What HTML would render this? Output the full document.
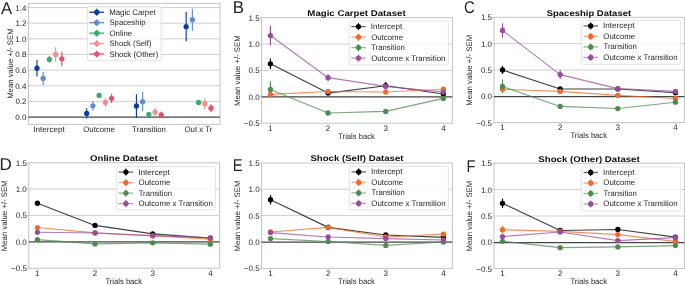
<!DOCTYPE html>
<html><head><meta charset="utf-8"><title>Figure</title>
<style>
html,body{margin:0;padding:0;background:#ffffff;width:685px;height:285px;overflow:hidden;}
svg{display:block;will-change:transform;text-rendering:geometricPrecision;font-family:"Liberation Sans", sans-serif;}
</style></head>
<body>
<svg width="685" height="285" viewBox="0 0 685 285">
<rect x="0" y="0" width="685" height="285" fill="#ffffff"/>
<line x1="28.5" y1="101.41" x2="220" y2="101.41" stroke="#cfcfcf" stroke-width="1"/>
<line x1="28.5" y1="85.77" x2="220" y2="85.77" stroke="#cfcfcf" stroke-width="1"/>
<line x1="28.5" y1="70.13" x2="220" y2="70.13" stroke="#cfcfcf" stroke-width="1"/>
<line x1="28.5" y1="54.49" x2="220" y2="54.49" stroke="#cfcfcf" stroke-width="1"/>
<line x1="28.5" y1="38.85" x2="220" y2="38.85" stroke="#cfcfcf" stroke-width="1"/>
<line x1="28.5" y1="23.21" x2="220" y2="23.21" stroke="#cfcfcf" stroke-width="1"/>
<line x1="28.5" y1="7.57" x2="220" y2="7.57" stroke="#cfcfcf" stroke-width="1"/>
<rect x="28.5" y="3.4" width="191.5" height="121" fill="none" stroke="#c4c4c4" stroke-width="1" rx="0"/>
<line x1="28.5" y1="117.2" x2="220" y2="117.2" stroke="#454545" stroke-width="1.3"/>
<line x1="26.9" y1="117.05" x2="28.5" y2="117.05" stroke="#c4c4c4" stroke-width="0.8"/>
<line x1="26.9" y1="101.41" x2="28.5" y2="101.41" stroke="#c4c4c4" stroke-width="0.8"/>
<line x1="26.9" y1="85.77" x2="28.5" y2="85.77" stroke="#c4c4c4" stroke-width="0.8"/>
<line x1="26.9" y1="70.13" x2="28.5" y2="70.13" stroke="#c4c4c4" stroke-width="0.8"/>
<line x1="26.9" y1="54.49" x2="28.5" y2="54.49" stroke="#c4c4c4" stroke-width="0.8"/>
<line x1="26.9" y1="38.85" x2="28.5" y2="38.85" stroke="#c4c4c4" stroke-width="0.8"/>
<line x1="26.9" y1="23.21" x2="28.5" y2="23.21" stroke="#c4c4c4" stroke-width="0.8"/>
<line x1="26.9" y1="7.57" x2="28.5" y2="7.57" stroke="#c4c4c4" stroke-width="0.8"/>
<line x1="49.4" y1="124.4" x2="49.4" y2="126" stroke="#c4c4c4" stroke-width="0.8"/>
<line x1="99.13" y1="124.4" x2="99.13" y2="126" stroke="#c4c4c4" stroke-width="0.8"/>
<line x1="148.86" y1="124.4" x2="148.86" y2="126" stroke="#c4c4c4" stroke-width="0.8"/>
<line x1="198.59" y1="124.4" x2="198.59" y2="126" stroke="#c4c4c4" stroke-width="0.8"/>
<text x="26.41" y="120.05" font-size="8" text-anchor="end" font-weight="normal" fill="#262626">0.0</text>
<text x="26.5" y="104.41" font-size="8" text-anchor="end" font-weight="normal" fill="#262626">0.2</text>
<text x="26.33" y="88.77" font-size="8" text-anchor="end" font-weight="normal" fill="#262626">0.4</text>
<text x="26.45" y="73.13" font-size="8" text-anchor="end" font-weight="normal" fill="#262626">0.6</text>
<text x="26.45" y="57.49" font-size="8" text-anchor="end" font-weight="normal" fill="#262626">0.8</text>
<text x="26.41" y="41.85" font-size="8" text-anchor="end" font-weight="normal" fill="#262626">1.0</text>
<text x="26.5" y="26.21" font-size="8" text-anchor="end" font-weight="normal" fill="#262626">1.2</text>
<text x="26.33" y="10.57" font-size="8" text-anchor="end" font-weight="normal" fill="#262626">1.4</text>
<text x="33.2" y="131.6" font-size="8" text-anchor="start" font-weight="normal" fill="#262626" textLength="31.71" lengthAdjust="spacingAndGlyphs">Intercept</text>
<text x="83.26" y="131.6" font-size="8" text-anchor="start" font-weight="normal" fill="#262626" textLength="31.72" lengthAdjust="spacingAndGlyphs">Outcome</text>
<text x="132.09" y="131.6" font-size="8" text-anchor="start" font-weight="normal" fill="#262626" textLength="33.87" lengthAdjust="spacingAndGlyphs">Transition</text>
<text x="184.42" y="131.6" font-size="8" text-anchor="start" font-weight="normal" fill="#262626" textLength="28.1" lengthAdjust="spacingAndGlyphs">Out x Tr</text>
<text x="12.9" y="98.84" font-size="8" text-anchor="start" font-weight="normal" fill="#262626" textLength="70.47" lengthAdjust="spacingAndGlyphs" transform="rotate(-90 12.9 98.84)">Mean value +/- SEM</text>
<text x="0.97" y="13.7" font-size="17" text-anchor="start" font-weight="normal" fill="#262626" textLength="11.06" lengthAdjust="spacingAndGlyphs">A</text>
<line x1="36.97" y1="60.04" x2="36.97" y2="76.46" stroke="#0a3d9e" stroke-width="1.15"/>
<line x1="86.7" y1="108.37" x2="86.7" y2="118.54" stroke="#0a3d9e" stroke-width="1.15"/>
<line x1="136.43" y1="94.29" x2="136.43" y2="117.75" stroke="#0a3d9e" stroke-width="1.15"/>
<line x1="186.16" y1="12.11" x2="186.16" y2="41.2" stroke="#0a3d9e" stroke-width="1.15"/>
<line x1="43.18" y1="71.93" x2="43.18" y2="84.91" stroke="#5f8dc8" stroke-width="1.15"/>
<line x1="92.91" y1="101.25" x2="92.91" y2="110.48" stroke="#5f8dc8" stroke-width="1.15"/>
<line x1="142.64" y1="92.1" x2="142.64" y2="111.19" stroke="#5f8dc8" stroke-width="1.15"/>
<line x1="192.37" y1="8.74" x2="192.37" y2="30.64" stroke="#5f8dc8" stroke-width="1.15"/>
<line x1="49.4" y1="56.05" x2="49.4" y2="62.78" stroke="#3caa6e" stroke-width="1.15"/>
<line x1="99.13" y1="93.9" x2="99.13" y2="97.03" stroke="#3caa6e" stroke-width="1.15"/>
<line x1="148.86" y1="112.91" x2="148.86" y2="116.03" stroke="#3caa6e" stroke-width="1.15"/>
<line x1="198.59" y1="100.86" x2="198.59" y2="103.99" stroke="#3caa6e" stroke-width="1.15"/>
<line x1="55.62" y1="47.14" x2="55.62" y2="61.84" stroke="#f98e8c" stroke-width="1.15"/>
<line x1="105.35" y1="98.13" x2="105.35" y2="106.73" stroke="#f98e8c" stroke-width="1.15"/>
<line x1="155.08" y1="107.98" x2="155.08" y2="116.11" stroke="#f98e8c" stroke-width="1.15"/>
<line x1="204.81" y1="98.2" x2="204.81" y2="109.15" stroke="#f98e8c" stroke-width="1.15"/>
<line x1="61.83" y1="51.44" x2="61.83" y2="66.3" stroke="#e0546c" stroke-width="1.15"/>
<line x1="111.56" y1="93.59" x2="111.56" y2="102.97" stroke="#e0546c" stroke-width="1.15"/>
<line x1="161.29" y1="111.58" x2="161.29" y2="118.3" stroke="#e0546c" stroke-width="1.15"/>
<line x1="211.02" y1="104.3" x2="211.02" y2="111.97" stroke="#e0546c" stroke-width="1.15"/>
<circle cx="36.97" cy="68.25" r="2.65" fill="#0a3d9e"/>
<circle cx="86.7" cy="113.45" r="2.65" fill="#0a3d9e"/>
<circle cx="136.43" cy="106.02" r="2.65" fill="#0a3d9e"/>
<circle cx="186.16" cy="26.65" r="2.65" fill="#0a3d9e"/>
<circle cx="43.18" cy="78.42" r="2.65" fill="#5f8dc8"/>
<circle cx="92.91" cy="105.87" r="2.65" fill="#5f8dc8"/>
<circle cx="142.64" cy="101.64" r="2.65" fill="#5f8dc8"/>
<circle cx="192.37" cy="19.69" r="2.65" fill="#5f8dc8"/>
<circle cx="49.4" cy="59.42" r="2.65" fill="#3caa6e"/>
<circle cx="99.13" cy="95.47" r="2.65" fill="#3caa6e"/>
<circle cx="148.86" cy="114.47" r="2.65" fill="#3caa6e"/>
<circle cx="198.59" cy="102.43" r="2.65" fill="#3caa6e"/>
<circle cx="55.62" cy="54.49" r="2.65" fill="#f98e8c"/>
<circle cx="105.35" cy="102.43" r="2.65" fill="#f98e8c"/>
<circle cx="155.08" cy="112.05" r="2.65" fill="#f98e8c"/>
<circle cx="204.81" cy="103.68" r="2.65" fill="#f98e8c"/>
<circle cx="61.83" cy="58.87" r="2.65" fill="#e0546c"/>
<circle cx="111.56" cy="98.28" r="2.65" fill="#e0546c"/>
<circle cx="161.29" cy="114.94" r="2.65" fill="#e0546c"/>
<circle cx="211.02" cy="108.14" r="2.65" fill="#e0546c"/>
<rect x="87.4" y="6.6" width="73.8" height="54" fill="#ffffff" stroke="#e0e0e0" stroke-width="0.9" rx="2" fill-opacity="0.8"/>
<line x1="89.3" y1="12.25" x2="104.1" y2="12.25" stroke="#0a3d9e" stroke-width="1.3"/>
<line x1="96.75" y1="8.65" x2="96.75" y2="15.85" stroke="#0a3d9e" stroke-width="1"/>
<circle cx="96.75" cy="12.25" r="2.65" fill="#0a3d9e"/>
<text x="109.16" y="14.95" font-size="8" text-anchor="start" font-weight="normal" fill="#262626" textLength="46.6" lengthAdjust="spacingAndGlyphs">Magic Carpet</text>
<line x1="89.3" y1="22.7" x2="104.1" y2="22.7" stroke="#5f8dc8" stroke-width="1.3"/>
<line x1="96.75" y1="19.1" x2="96.75" y2="26.3" stroke="#5f8dc8" stroke-width="1"/>
<circle cx="96.75" cy="22.7" r="2.65" fill="#5f8dc8"/>
<text x="109.45" y="25.4" font-size="8" text-anchor="start" font-weight="normal" fill="#262626" textLength="36.08" lengthAdjust="spacingAndGlyphs">Spaceship</text>
<line x1="89.3" y1="33.15" x2="104.1" y2="33.15" stroke="#3caa6e" stroke-width="1.3"/>
<line x1="96.75" y1="29.55" x2="96.75" y2="36.75" stroke="#3caa6e" stroke-width="1"/>
<circle cx="96.75" cy="33.15" r="2.65" fill="#3caa6e"/>
<text x="109.43" y="35.85" font-size="8" text-anchor="start" font-weight="normal" fill="#262626" textLength="22.82" lengthAdjust="spacingAndGlyphs">Online</text>
<line x1="89.3" y1="43.6" x2="104.1" y2="43.6" stroke="#f98e8c" stroke-width="1.3"/>
<line x1="96.75" y1="40" x2="96.75" y2="47.2" stroke="#f98e8c" stroke-width="1"/>
<circle cx="96.75" cy="43.6" r="2.65" fill="#f98e8c"/>
<text x="109.45" y="46.3" font-size="8" text-anchor="start" font-weight="normal" fill="#262626" textLength="42.13" lengthAdjust="spacingAndGlyphs">Shock (Self)</text>
<line x1="89.3" y1="54.05" x2="104.1" y2="54.05" stroke="#e0546c" stroke-width="1.3"/>
<line x1="96.75" y1="50.45" x2="96.75" y2="57.65" stroke="#e0546c" stroke-width="1"/>
<circle cx="96.75" cy="54.05" r="2.65" fill="#e0546c"/>
<text x="109.44" y="56.75" font-size="8" text-anchor="start" font-weight="normal" fill="#262626" textLength="48.84" lengthAdjust="spacingAndGlyphs">Shock (Other)</text>
<line x1="261.6" y1="70.4" x2="452.4" y2="70.4" stroke="#cfcfcf" stroke-width="1"/>
<line x1="261.6" y1="44" x2="452.4" y2="44" stroke="#cfcfcf" stroke-width="1"/>
<rect x="261.6" y="17.6" width="190.8" height="105.6" fill="none" stroke="#c4c4c4" stroke-width="1" rx="0"/>
<line x1="261.6" y1="96.95" x2="452.4" y2="96.95" stroke="#454545" stroke-width="1.3"/>
<line x1="260" y1="123.2" x2="261.6" y2="123.2" stroke="#c4c4c4" stroke-width="0.8"/>
<line x1="260" y1="96.8" x2="261.6" y2="96.8" stroke="#c4c4c4" stroke-width="0.8"/>
<line x1="260" y1="70.4" x2="261.6" y2="70.4" stroke="#c4c4c4" stroke-width="0.8"/>
<line x1="260" y1="44" x2="261.6" y2="44" stroke="#c4c4c4" stroke-width="0.8"/>
<line x1="260" y1="17.6" x2="261.6" y2="17.6" stroke="#c4c4c4" stroke-width="0.8"/>
<line x1="270.4" y1="123.2" x2="270.4" y2="124.8" stroke="#c4c4c4" stroke-width="0.8"/>
<line x1="328.05" y1="123.2" x2="328.05" y2="124.8" stroke="#c4c4c4" stroke-width="0.8"/>
<line x1="385.7" y1="123.2" x2="385.7" y2="124.8" stroke="#c4c4c4" stroke-width="0.8"/>
<line x1="443.35" y1="123.2" x2="443.35" y2="124.8" stroke="#c4c4c4" stroke-width="0.8"/>
<text x="259.64" y="126.2" font-size="8" text-anchor="end" font-weight="normal" fill="#262626">−0.5</text>
<text x="259.61" y="99.8" font-size="8" text-anchor="end" font-weight="normal" fill="#262626">0.0</text>
<text x="259.64" y="73.4" font-size="8" text-anchor="end" font-weight="normal" fill="#262626">0.5</text>
<text x="259.61" y="47" font-size="8" text-anchor="end" font-weight="normal" fill="#262626">1.0</text>
<text x="259.64" y="20.6" font-size="8" text-anchor="end" font-weight="normal" fill="#262626">1.5</text>
<text x="268.07" y="130.8" font-size="8" text-anchor="start" font-weight="normal" fill="#262626" textLength="4.45" lengthAdjust="spacingAndGlyphs">1</text>
<text x="325.83" y="130.8" font-size="8" text-anchor="start" font-weight="normal" fill="#262626" textLength="4.45" lengthAdjust="spacingAndGlyphs">2</text>
<text x="383.5" y="130.8" font-size="8" text-anchor="start" font-weight="normal" fill="#262626" textLength="4.45" lengthAdjust="spacingAndGlyphs">3</text>
<text x="441.15" y="130.8" font-size="8" text-anchor="start" font-weight="normal" fill="#262626" textLength="4.45" lengthAdjust="spacingAndGlyphs">4</text>
<text x="338.23" y="138.7" font-size="8" text-anchor="start" font-weight="normal" fill="#262626" textLength="36.56" lengthAdjust="spacingAndGlyphs">Trials back</text>
<text x="240.1" y="106.09" font-size="8" text-anchor="start" font-weight="normal" fill="#262626" textLength="70.78" lengthAdjust="spacingAndGlyphs" transform="rotate(-90 240.1 106.09)">Mean value +/- SEM</text>
<text x="232.81" y="12.5" font-size="17" text-anchor="start" font-weight="normal" fill="#262626" textLength="11.28" lengthAdjust="spacingAndGlyphs">B</text>
<text x="307.35" y="15.9" font-size="8.4" text-anchor="start" font-weight="bold" fill="#0d0d0d" textLength="98.37" lengthAdjust="spacingAndGlyphs">Magic Carpet Dataset</text>
<line x1="270.4" y1="58.52" x2="270.4" y2="69.08" stroke="#000000" stroke-width="1.15"/>
<line x1="328.05" y1="92.05" x2="328.05" y2="94.16" stroke="#000000" stroke-width="1.15"/>
<line x1="385.7" y1="82.02" x2="385.7" y2="89.41" stroke="#000000" stroke-width="1.15"/>
<line x1="443.35" y1="92.95" x2="443.35" y2="95.06" stroke="#000000" stroke-width="1.15"/>
<line x1="270.4" y1="93.37" x2="270.4" y2="95.48" stroke="#ef6a2e" stroke-width="1.15"/>
<line x1="328.05" y1="90.46" x2="328.05" y2="92.58" stroke="#ef6a2e" stroke-width="1.15"/>
<line x1="385.7" y1="90.99" x2="385.7" y2="93.1" stroke="#ef6a2e" stroke-width="1.15"/>
<line x1="443.35" y1="88.14" x2="443.35" y2="90.25" stroke="#ef6a2e" stroke-width="1.15"/>
<line x1="270.4" y1="81.49" x2="270.4" y2="97.33" stroke="#4e8a50" stroke-width="1.15"/>
<line x1="328.05" y1="111.95" x2="328.05" y2="114.07" stroke="#4e8a50" stroke-width="1.15"/>
<line x1="385.7" y1="110.37" x2="385.7" y2="112.48" stroke="#4e8a50" stroke-width="1.15"/>
<line x1="443.35" y1="97.33" x2="443.35" y2="99.44" stroke="#4e8a50" stroke-width="1.15"/>
<line x1="270.4" y1="25.78" x2="270.4" y2="45.32" stroke="#974d9c" stroke-width="1.15"/>
<line x1="328.05" y1="74.2" x2="328.05" y2="81.17" stroke="#974d9c" stroke-width="1.15"/>
<line x1="385.7" y1="84.81" x2="385.7" y2="87.98" stroke="#974d9c" stroke-width="1.15"/>
<line x1="443.35" y1="90.99" x2="443.35" y2="93.1" stroke="#974d9c" stroke-width="1.15"/>
<polyline points="270.4,63.8 328.05,93.1 385.7,85.71 443.35,94" fill="none" stroke="#000000" stroke-width="1.15" stroke-opacity="0.75" stroke-linejoin="round"/>
<circle cx="270.4" cy="63.8" r="2.65" fill="#000000"/>
<circle cx="328.05" cy="93.1" r="2.65" fill="#000000"/>
<circle cx="385.7" cy="85.71" r="2.65" fill="#000000"/>
<circle cx="443.35" cy="94" r="2.65" fill="#000000"/>
<polyline points="270.4,94.42 328.05,91.52 385.7,92.05 443.35,89.2" fill="none" stroke="#ef6a2e" stroke-width="1.15" stroke-opacity="0.75" stroke-linejoin="round"/>
<circle cx="270.4" cy="94.42" r="2.65" fill="#ef6a2e"/>
<circle cx="328.05" cy="91.52" r="2.65" fill="#ef6a2e"/>
<circle cx="385.7" cy="92.05" r="2.65" fill="#ef6a2e"/>
<circle cx="443.35" cy="89.2" r="2.65" fill="#ef6a2e"/>
<polyline points="270.4,89.41 328.05,113.01 385.7,111.43 443.35,98.38" fill="none" stroke="#4e8a50" stroke-width="1.15" stroke-opacity="0.75" stroke-linejoin="round"/>
<circle cx="270.4" cy="89.41" r="2.65" fill="#4e8a50"/>
<circle cx="328.05" cy="113.01" r="2.65" fill="#4e8a50"/>
<circle cx="385.7" cy="111.43" r="2.65" fill="#4e8a50"/>
<circle cx="443.35" cy="98.38" r="2.65" fill="#4e8a50"/>
<polyline points="270.4,35.55 328.05,77.69 385.7,86.4 443.35,92.05" fill="none" stroke="#974d9c" stroke-width="1.15" stroke-opacity="0.75" stroke-linejoin="round"/>
<circle cx="270.4" cy="35.55" r="2.65" fill="#974d9c"/>
<circle cx="328.05" cy="77.69" r="2.65" fill="#974d9c"/>
<circle cx="385.7" cy="86.4" r="2.65" fill="#974d9c"/>
<circle cx="443.35" cy="92.05" r="2.65" fill="#974d9c"/>
<rect x="349.2" y="21.1" width="99.2" height="43.9" fill="#ffffff" stroke="#e0e0e0" stroke-width="0.9" rx="2" fill-opacity="0.8"/>
<line x1="351.2" y1="26.6" x2="365.8" y2="26.6" stroke="#000000" stroke-width="1.3" stroke-opacity="0.6"/>
<line x1="358.5" y1="23" x2="358.5" y2="30.2" stroke="#000000" stroke-width="1"/>
<circle cx="358.5" cy="26.6" r="2.65" fill="#000000"/>
<text x="370.75" y="29.05" font-size="8" text-anchor="start" font-weight="normal" fill="#262626" textLength="31.61" lengthAdjust="spacingAndGlyphs">Intercept</text>
<line x1="351.2" y1="37.1" x2="365.8" y2="37.1" stroke="#ef6a2e" stroke-width="1.3" stroke-opacity="0.6"/>
<line x1="358.5" y1="33.5" x2="358.5" y2="40.7" stroke="#ef6a2e" stroke-width="1"/>
<circle cx="358.5" cy="37.1" r="2.65" fill="#ef6a2e"/>
<text x="371.13" y="39.55" font-size="8" text-anchor="start" font-weight="normal" fill="#262626" textLength="31.92" lengthAdjust="spacingAndGlyphs">Outcome</text>
<line x1="351.2" y1="47.6" x2="365.8" y2="47.6" stroke="#4e8a50" stroke-width="1.3" stroke-opacity="0.6"/>
<line x1="358.5" y1="44" x2="358.5" y2="51.2" stroke="#4e8a50" stroke-width="1"/>
<circle cx="358.5" cy="47.6" r="2.65" fill="#4e8a50"/>
<text x="371.33" y="50.05" font-size="8" text-anchor="start" font-weight="normal" fill="#262626" textLength="33.36" lengthAdjust="spacingAndGlyphs">Transition</text>
<line x1="351.2" y1="58.1" x2="365.8" y2="58.1" stroke="#974d9c" stroke-width="1.3" stroke-opacity="0.6"/>
<line x1="358.5" y1="54.5" x2="358.5" y2="61.7" stroke="#974d9c" stroke-width="1"/>
<circle cx="358.5" cy="58.1" r="2.65" fill="#974d9c"/>
<text x="371.13" y="60.55" font-size="8" text-anchor="start" font-weight="normal" fill="#262626" textLength="74.28" lengthAdjust="spacingAndGlyphs">Outcome x Transition</text>
<line x1="494" y1="70" x2="684.4" y2="70" stroke="#cfcfcf" stroke-width="1"/>
<line x1="494" y1="43.6" x2="684.4" y2="43.6" stroke="#cfcfcf" stroke-width="1"/>
<rect x="494" y="17.3" width="190.4" height="105.3" fill="none" stroke="#c4c4c4" stroke-width="1" rx="0"/>
<line x1="494" y1="96.55" x2="684.4" y2="96.55" stroke="#454545" stroke-width="1.3"/>
<line x1="492.4" y1="122.8" x2="494" y2="122.8" stroke="#c4c4c4" stroke-width="0.8"/>
<line x1="492.4" y1="96.4" x2="494" y2="96.4" stroke="#c4c4c4" stroke-width="0.8"/>
<line x1="492.4" y1="70" x2="494" y2="70" stroke="#c4c4c4" stroke-width="0.8"/>
<line x1="492.4" y1="43.6" x2="494" y2="43.6" stroke="#c4c4c4" stroke-width="0.8"/>
<line x1="492.4" y1="17.2" x2="494" y2="17.2" stroke="#c4c4c4" stroke-width="0.8"/>
<line x1="502.5" y1="122.6" x2="502.5" y2="124.2" stroke="#c4c4c4" stroke-width="0.8"/>
<line x1="560.15" y1="122.6" x2="560.15" y2="124.2" stroke="#c4c4c4" stroke-width="0.8"/>
<line x1="617.8" y1="122.6" x2="617.8" y2="124.2" stroke="#c4c4c4" stroke-width="0.8"/>
<line x1="675.45" y1="122.6" x2="675.45" y2="124.2" stroke="#c4c4c4" stroke-width="0.8"/>
<text x="492.04" y="125.8" font-size="8" text-anchor="end" font-weight="normal" fill="#262626">−0.5</text>
<text x="492.01" y="99.4" font-size="8" text-anchor="end" font-weight="normal" fill="#262626">0.0</text>
<text x="492.04" y="73" font-size="8" text-anchor="end" font-weight="normal" fill="#262626">0.5</text>
<text x="492.01" y="46.6" font-size="8" text-anchor="end" font-weight="normal" fill="#262626">1.0</text>
<text x="492.04" y="20.2" font-size="8" text-anchor="end" font-weight="normal" fill="#262626">1.5</text>
<text x="500.17" y="130.2" font-size="8" text-anchor="start" font-weight="normal" fill="#262626" textLength="4.45" lengthAdjust="spacingAndGlyphs">1</text>
<text x="557.93" y="130.2" font-size="8" text-anchor="start" font-weight="normal" fill="#262626" textLength="4.45" lengthAdjust="spacingAndGlyphs">2</text>
<text x="615.6" y="130.2" font-size="8" text-anchor="start" font-weight="normal" fill="#262626" textLength="4.45" lengthAdjust="spacingAndGlyphs">3</text>
<text x="673.25" y="130.2" font-size="8" text-anchor="start" font-weight="normal" fill="#262626" textLength="4.45" lengthAdjust="spacingAndGlyphs">4</text>
<text x="570.43" y="138.1" font-size="8" text-anchor="start" font-weight="normal" fill="#262626" textLength="36.56" lengthAdjust="spacingAndGlyphs">Trials back</text>
<text x="472.2" y="105.64" font-size="8" text-anchor="start" font-weight="normal" fill="#262626" textLength="70.78" lengthAdjust="spacingAndGlyphs" transform="rotate(-90 472.2 105.64)">Mean value +/- SEM</text>
<text x="464.04" y="13.4" font-size="17" text-anchor="start" font-weight="normal" fill="#262626" textLength="10.83" lengthAdjust="spacingAndGlyphs">C</text>
<text x="546.73" y="15.9" font-size="8.4" text-anchor="start" font-weight="bold" fill="#0d0d0d" textLength="84.39" lengthAdjust="spacingAndGlyphs">Spaceship Dataset</text>
<line x1="502.5" y1="66.04" x2="502.5" y2="73.96" stroke="#000000" stroke-width="1.15"/>
<line x1="560.15" y1="87.37" x2="560.15" y2="90.54" stroke="#000000" stroke-width="1.15"/>
<line x1="617.8" y1="87.9" x2="617.8" y2="90.01" stroke="#000000" stroke-width="1.15"/>
<line x1="675.45" y1="91.65" x2="675.45" y2="93.76" stroke="#000000" stroke-width="1.15"/>
<line x1="502.5" y1="85.58" x2="502.5" y2="92.97" stroke="#ef6a2e" stroke-width="1.15"/>
<line x1="560.15" y1="90.33" x2="560.15" y2="92.44" stroke="#ef6a2e" stroke-width="1.15"/>
<line x1="617.8" y1="94.29" x2="617.8" y2="96.4" stroke="#ef6a2e" stroke-width="1.15"/>
<line x1="675.45" y1="97.46" x2="675.45" y2="99.57" stroke="#ef6a2e" stroke-width="1.15"/>
<line x1="502.5" y1="79.56" x2="502.5" y2="93.28" stroke="#4e8a50" stroke-width="1.15"/>
<line x1="560.15" y1="105.38" x2="560.15" y2="107.49" stroke="#4e8a50" stroke-width="1.15"/>
<line x1="617.8" y1="107.49" x2="617.8" y2="109.6" stroke="#4e8a50" stroke-width="1.15"/>
<line x1="675.45" y1="101.15" x2="675.45" y2="103.26" stroke="#4e8a50" stroke-width="1.15"/>
<line x1="502.5" y1="23.27" x2="502.5" y2="37.53" stroke="#974d9c" stroke-width="1.15"/>
<line x1="560.15" y1="70.11" x2="560.15" y2="79.08" stroke="#974d9c" stroke-width="1.15"/>
<line x1="617.8" y1="87.53" x2="617.8" y2="89.64" stroke="#974d9c" stroke-width="1.15"/>
<line x1="675.45" y1="90.33" x2="675.45" y2="92.44" stroke="#974d9c" stroke-width="1.15"/>
<polyline points="502.5,70 560.15,88.96 617.8,88.96 675.45,92.7" fill="none" stroke="#000000" stroke-width="1.15" stroke-opacity="0.75" stroke-linejoin="round"/>
<circle cx="502.5" cy="70" r="2.65" fill="#000000"/>
<circle cx="560.15" cy="88.96" r="2.65" fill="#000000"/>
<circle cx="617.8" cy="88.96" r="2.65" fill="#000000"/>
<circle cx="675.45" cy="92.7" r="2.65" fill="#000000"/>
<polyline points="502.5,89.27 560.15,91.38 617.8,95.34 675.45,98.51" fill="none" stroke="#ef6a2e" stroke-width="1.15" stroke-opacity="0.75" stroke-linejoin="round"/>
<circle cx="502.5" cy="89.27" r="2.65" fill="#ef6a2e"/>
<circle cx="560.15" cy="91.38" r="2.65" fill="#ef6a2e"/>
<circle cx="617.8" cy="95.34" r="2.65" fill="#ef6a2e"/>
<circle cx="675.45" cy="98.51" r="2.65" fill="#ef6a2e"/>
<polyline points="502.5,86.42 560.15,106.43 617.8,108.54 675.45,102.21" fill="none" stroke="#4e8a50" stroke-width="1.15" stroke-opacity="0.75" stroke-linejoin="round"/>
<circle cx="502.5" cy="86.42" r="2.65" fill="#4e8a50"/>
<circle cx="560.15" cy="106.43" r="2.65" fill="#4e8a50"/>
<circle cx="617.8" cy="108.54" r="2.65" fill="#4e8a50"/>
<circle cx="675.45" cy="102.21" r="2.65" fill="#4e8a50"/>
<polyline points="502.5,30.4 560.15,74.59 617.8,88.59 675.45,91.38" fill="none" stroke="#974d9c" stroke-width="1.15" stroke-opacity="0.75" stroke-linejoin="round"/>
<circle cx="502.5" cy="30.4" r="2.65" fill="#974d9c"/>
<circle cx="560.15" cy="74.59" r="2.65" fill="#974d9c"/>
<circle cx="617.8" cy="88.59" r="2.65" fill="#974d9c"/>
<circle cx="675.45" cy="91.38" r="2.65" fill="#974d9c"/>
<rect x="581.4" y="20.4" width="99.4" height="44" fill="#ffffff" stroke="#e0e0e0" stroke-width="0.9" rx="2" fill-opacity="0.8"/>
<line x1="583.4" y1="25.9" x2="598" y2="25.9" stroke="#000000" stroke-width="1.3" stroke-opacity="0.6"/>
<line x1="590.7" y1="22.3" x2="590.7" y2="29.5" stroke="#000000" stroke-width="1"/>
<circle cx="590.7" cy="25.9" r="2.65" fill="#000000"/>
<text x="602.95" y="28.35" font-size="8" text-anchor="start" font-weight="normal" fill="#262626" textLength="31.61" lengthAdjust="spacingAndGlyphs">Intercept</text>
<line x1="583.4" y1="36.4" x2="598" y2="36.4" stroke="#ef6a2e" stroke-width="1.3" stroke-opacity="0.6"/>
<line x1="590.7" y1="32.8" x2="590.7" y2="40" stroke="#ef6a2e" stroke-width="1"/>
<circle cx="590.7" cy="36.4" r="2.65" fill="#ef6a2e"/>
<text x="603.33" y="38.85" font-size="8" text-anchor="start" font-weight="normal" fill="#262626" textLength="31.92" lengthAdjust="spacingAndGlyphs">Outcome</text>
<line x1="583.4" y1="46.9" x2="598" y2="46.9" stroke="#4e8a50" stroke-width="1.3" stroke-opacity="0.6"/>
<line x1="590.7" y1="43.3" x2="590.7" y2="50.5" stroke="#4e8a50" stroke-width="1"/>
<circle cx="590.7" cy="46.9" r="2.65" fill="#4e8a50"/>
<text x="603.53" y="49.35" font-size="8" text-anchor="start" font-weight="normal" fill="#262626" textLength="33.36" lengthAdjust="spacingAndGlyphs">Transition</text>
<line x1="583.4" y1="57.4" x2="598" y2="57.4" stroke="#974d9c" stroke-width="1.3" stroke-opacity="0.6"/>
<line x1="590.7" y1="53.8" x2="590.7" y2="61" stroke="#974d9c" stroke-width="1"/>
<circle cx="590.7" cy="57.4" r="2.65" fill="#974d9c"/>
<text x="603.33" y="59.85" font-size="8" text-anchor="start" font-weight="normal" fill="#262626" textLength="74.28" lengthAdjust="spacingAndGlyphs">Outcome x Transition</text>
<line x1="28.8" y1="215.4" x2="219.6" y2="215.4" stroke="#cfcfcf" stroke-width="1"/>
<line x1="28.8" y1="189" x2="219.6" y2="189" stroke="#cfcfcf" stroke-width="1"/>
<rect x="28.8" y="162.8" width="190.8" height="105.4" fill="none" stroke="#c4c4c4" stroke-width="1" rx="0"/>
<line x1="28.8" y1="241.95" x2="219.6" y2="241.95" stroke="#454545" stroke-width="1.3"/>
<line x1="27.2" y1="268.2" x2="28.8" y2="268.2" stroke="#c4c4c4" stroke-width="0.8"/>
<line x1="27.2" y1="241.8" x2="28.8" y2="241.8" stroke="#c4c4c4" stroke-width="0.8"/>
<line x1="27.2" y1="215.4" x2="28.8" y2="215.4" stroke="#c4c4c4" stroke-width="0.8"/>
<line x1="27.2" y1="189" x2="28.8" y2="189" stroke="#c4c4c4" stroke-width="0.8"/>
<line x1="27.2" y1="162.6" x2="28.8" y2="162.6" stroke="#c4c4c4" stroke-width="0.8"/>
<line x1="37.4" y1="268.2" x2="37.4" y2="269.8" stroke="#c4c4c4" stroke-width="0.8"/>
<line x1="95.05" y1="268.2" x2="95.05" y2="269.8" stroke="#c4c4c4" stroke-width="0.8"/>
<line x1="152.7" y1="268.2" x2="152.7" y2="269.8" stroke="#c4c4c4" stroke-width="0.8"/>
<line x1="210.35" y1="268.2" x2="210.35" y2="269.8" stroke="#c4c4c4" stroke-width="0.8"/>
<text x="26.84" y="271.2" font-size="8" text-anchor="end" font-weight="normal" fill="#262626">−0.5</text>
<text x="26.81" y="244.8" font-size="8" text-anchor="end" font-weight="normal" fill="#262626">0.0</text>
<text x="26.84" y="218.4" font-size="8" text-anchor="end" font-weight="normal" fill="#262626">0.5</text>
<text x="26.81" y="192" font-size="8" text-anchor="end" font-weight="normal" fill="#262626">1.0</text>
<text x="26.84" y="165.6" font-size="8" text-anchor="end" font-weight="normal" fill="#262626">1.5</text>
<text x="35.07" y="275.8" font-size="8" text-anchor="start" font-weight="normal" fill="#262626" textLength="4.45" lengthAdjust="spacingAndGlyphs">1</text>
<text x="92.83" y="275.8" font-size="8" text-anchor="start" font-weight="normal" fill="#262626" textLength="4.45" lengthAdjust="spacingAndGlyphs">2</text>
<text x="150.5" y="275.8" font-size="8" text-anchor="start" font-weight="normal" fill="#262626" textLength="4.45" lengthAdjust="spacingAndGlyphs">3</text>
<text x="208.15" y="275.8" font-size="8" text-anchor="start" font-weight="normal" fill="#262626" textLength="4.45" lengthAdjust="spacingAndGlyphs">4</text>
<text x="105.43" y="283.7" font-size="8" text-anchor="start" font-weight="normal" fill="#262626" textLength="36.56" lengthAdjust="spacingAndGlyphs">Trials back</text>
<text x="7.2" y="251.19" font-size="8" text-anchor="start" font-weight="normal" fill="#262626" textLength="70.78" lengthAdjust="spacingAndGlyphs" transform="rotate(-90 7.2 251.19)">Mean value +/- SEM</text>
<text x="-0.5" y="170" font-size="17" text-anchor="start" font-weight="normal" fill="#262626" textLength="12.31" lengthAdjust="spacingAndGlyphs">D</text>
<text x="90" y="161.4" font-size="8.4" text-anchor="start" font-weight="bold" fill="#0d0d0d" textLength="67.71" lengthAdjust="spacingAndGlyphs">Online Dataset</text>
<line x1="37.4" y1="202.2" x2="37.4" y2="204.31" stroke="#000000" stroke-width="1.15"/>
<line x1="95.05" y1="224.38" x2="95.05" y2="226.49" stroke="#000000" stroke-width="1.15"/>
<line x1="152.7" y1="232.82" x2="152.7" y2="234.94" stroke="#000000" stroke-width="1.15"/>
<line x1="210.35" y1="237.05" x2="210.35" y2="239.16" stroke="#000000" stroke-width="1.15"/>
<line x1="37.4" y1="226.49" x2="37.4" y2="228.6" stroke="#ef6a2e" stroke-width="1.15"/>
<line x1="95.05" y1="231.77" x2="95.05" y2="233.88" stroke="#ef6a2e" stroke-width="1.15"/>
<line x1="152.7" y1="234.94" x2="152.7" y2="237.05" stroke="#ef6a2e" stroke-width="1.15"/>
<line x1="210.35" y1="238.1" x2="210.35" y2="240.22" stroke="#ef6a2e" stroke-width="1.15"/>
<line x1="37.4" y1="238.63" x2="37.4" y2="240.74" stroke="#4e8a50" stroke-width="1.15"/>
<line x1="95.05" y1="242.86" x2="95.05" y2="244.97" stroke="#4e8a50" stroke-width="1.15"/>
<line x1="152.7" y1="241.8" x2="152.7" y2="243.91" stroke="#4e8a50" stroke-width="1.15"/>
<line x1="210.35" y1="243.12" x2="210.35" y2="245.23" stroke="#4e8a50" stroke-width="1.15"/>
<line x1="37.4" y1="231.24" x2="37.4" y2="233.35" stroke="#974d9c" stroke-width="1.15"/>
<line x1="95.05" y1="231.93" x2="95.05" y2="234.04" stroke="#974d9c" stroke-width="1.15"/>
<line x1="152.7" y1="234.57" x2="152.7" y2="236.68" stroke="#974d9c" stroke-width="1.15"/>
<line x1="210.35" y1="236.73" x2="210.35" y2="238.84" stroke="#974d9c" stroke-width="1.15"/>
<polyline points="37.4,203.26 95.05,225.43 152.7,233.88 210.35,238.1" fill="none" stroke="#000000" stroke-width="1.15" stroke-opacity="0.75" stroke-linejoin="round"/>
<circle cx="37.4" cy="203.26" r="2.65" fill="#000000"/>
<circle cx="95.05" cy="225.43" r="2.65" fill="#000000"/>
<circle cx="152.7" cy="233.88" r="2.65" fill="#000000"/>
<circle cx="210.35" cy="238.1" r="2.65" fill="#000000"/>
<polyline points="37.4,227.54 95.05,232.82 152.7,235.99 210.35,239.16" fill="none" stroke="#ef6a2e" stroke-width="1.15" stroke-opacity="0.75" stroke-linejoin="round"/>
<circle cx="37.4" cy="227.54" r="2.65" fill="#ef6a2e"/>
<circle cx="95.05" cy="232.82" r="2.65" fill="#ef6a2e"/>
<circle cx="152.7" cy="235.99" r="2.65" fill="#ef6a2e"/>
<circle cx="210.35" cy="239.16" r="2.65" fill="#ef6a2e"/>
<polyline points="37.4,239.69 95.05,243.91 152.7,242.86 210.35,244.18" fill="none" stroke="#4e8a50" stroke-width="1.15" stroke-opacity="0.75" stroke-linejoin="round"/>
<circle cx="37.4" cy="239.69" r="2.65" fill="#4e8a50"/>
<circle cx="95.05" cy="243.91" r="2.65" fill="#4e8a50"/>
<circle cx="152.7" cy="242.86" r="2.65" fill="#4e8a50"/>
<circle cx="210.35" cy="244.18" r="2.65" fill="#4e8a50"/>
<polyline points="37.4,232.3 95.05,232.98 152.7,235.62 210.35,237.79" fill="none" stroke="#974d9c" stroke-width="1.15" stroke-opacity="0.75" stroke-linejoin="round"/>
<circle cx="37.4" cy="232.3" r="2.65" fill="#974d9c"/>
<circle cx="95.05" cy="232.98" r="2.65" fill="#974d9c"/>
<circle cx="152.7" cy="235.62" r="2.65" fill="#974d9c"/>
<circle cx="210.35" cy="237.79" r="2.65" fill="#974d9c"/>
<rect x="116.6" y="166.6" width="98.8" height="43.4" fill="#ffffff" stroke="#e0e0e0" stroke-width="0.9" rx="2" fill-opacity="0.8"/>
<line x1="118.6" y1="172.1" x2="133.2" y2="172.1" stroke="#000000" stroke-width="1.3" stroke-opacity="0.6"/>
<line x1="125.9" y1="168.5" x2="125.9" y2="175.7" stroke="#000000" stroke-width="1"/>
<circle cx="125.9" cy="172.1" r="2.65" fill="#000000"/>
<text x="138.15" y="174.55" font-size="8" text-anchor="start" font-weight="normal" fill="#262626" textLength="31.61" lengthAdjust="spacingAndGlyphs">Intercept</text>
<line x1="118.6" y1="182.6" x2="133.2" y2="182.6" stroke="#ef6a2e" stroke-width="1.3" stroke-opacity="0.6"/>
<line x1="125.9" y1="179" x2="125.9" y2="186.2" stroke="#ef6a2e" stroke-width="1"/>
<circle cx="125.9" cy="182.6" r="2.65" fill="#ef6a2e"/>
<text x="138.53" y="185.05" font-size="8" text-anchor="start" font-weight="normal" fill="#262626" textLength="31.92" lengthAdjust="spacingAndGlyphs">Outcome</text>
<line x1="118.6" y1="193.1" x2="133.2" y2="193.1" stroke="#4e8a50" stroke-width="1.3" stroke-opacity="0.6"/>
<line x1="125.9" y1="189.5" x2="125.9" y2="196.7" stroke="#4e8a50" stroke-width="1"/>
<circle cx="125.9" cy="193.1" r="2.65" fill="#4e8a50"/>
<text x="138.73" y="195.55" font-size="8" text-anchor="start" font-weight="normal" fill="#262626" textLength="33.36" lengthAdjust="spacingAndGlyphs">Transition</text>
<line x1="118.6" y1="203.6" x2="133.2" y2="203.6" stroke="#974d9c" stroke-width="1.3" stroke-opacity="0.6"/>
<line x1="125.9" y1="200" x2="125.9" y2="207.2" stroke="#974d9c" stroke-width="1"/>
<circle cx="125.9" cy="203.6" r="2.65" fill="#974d9c"/>
<text x="138.53" y="206.05" font-size="8" text-anchor="start" font-weight="normal" fill="#262626" textLength="74.28" lengthAdjust="spacingAndGlyphs">Outcome x Transition</text>
<line x1="261.6" y1="215.6" x2="452.4" y2="215.6" stroke="#cfcfcf" stroke-width="1"/>
<line x1="261.6" y1="189.2" x2="452.4" y2="189.2" stroke="#cfcfcf" stroke-width="1"/>
<rect x="261.6" y="163" width="190.8" height="105.4" fill="none" stroke="#c4c4c4" stroke-width="1" rx="0"/>
<line x1="261.6" y1="242.15" x2="452.4" y2="242.15" stroke="#454545" stroke-width="1.3"/>
<line x1="260" y1="268.4" x2="261.6" y2="268.4" stroke="#c4c4c4" stroke-width="0.8"/>
<line x1="260" y1="242" x2="261.6" y2="242" stroke="#c4c4c4" stroke-width="0.8"/>
<line x1="260" y1="215.6" x2="261.6" y2="215.6" stroke="#c4c4c4" stroke-width="0.8"/>
<line x1="260" y1="189.2" x2="261.6" y2="189.2" stroke="#c4c4c4" stroke-width="0.8"/>
<line x1="260" y1="162.8" x2="261.6" y2="162.8" stroke="#c4c4c4" stroke-width="0.8"/>
<line x1="270.5" y1="268.4" x2="270.5" y2="270" stroke="#c4c4c4" stroke-width="0.8"/>
<line x1="328.15" y1="268.4" x2="328.15" y2="270" stroke="#c4c4c4" stroke-width="0.8"/>
<line x1="385.8" y1="268.4" x2="385.8" y2="270" stroke="#c4c4c4" stroke-width="0.8"/>
<line x1="443.45" y1="268.4" x2="443.45" y2="270" stroke="#c4c4c4" stroke-width="0.8"/>
<text x="259.64" y="271.4" font-size="8" text-anchor="end" font-weight="normal" fill="#262626">−0.5</text>
<text x="259.61" y="245" font-size="8" text-anchor="end" font-weight="normal" fill="#262626">0.0</text>
<text x="259.64" y="218.6" font-size="8" text-anchor="end" font-weight="normal" fill="#262626">0.5</text>
<text x="259.61" y="192.2" font-size="8" text-anchor="end" font-weight="normal" fill="#262626">1.0</text>
<text x="259.64" y="165.8" font-size="8" text-anchor="end" font-weight="normal" fill="#262626">1.5</text>
<text x="268.17" y="276" font-size="8" text-anchor="start" font-weight="normal" fill="#262626" textLength="4.45" lengthAdjust="spacingAndGlyphs">1</text>
<text x="325.93" y="276" font-size="8" text-anchor="start" font-weight="normal" fill="#262626" textLength="4.45" lengthAdjust="spacingAndGlyphs">2</text>
<text x="383.6" y="276" font-size="8" text-anchor="start" font-weight="normal" fill="#262626" textLength="4.45" lengthAdjust="spacingAndGlyphs">3</text>
<text x="441.25" y="276" font-size="8" text-anchor="start" font-weight="normal" fill="#262626" textLength="4.45" lengthAdjust="spacingAndGlyphs">4</text>
<text x="338.23" y="283.9" font-size="8" text-anchor="start" font-weight="normal" fill="#262626" textLength="36.56" lengthAdjust="spacingAndGlyphs">Trials back</text>
<text x="240.2" y="251.39" font-size="8" text-anchor="start" font-weight="normal" fill="#262626" textLength="70.78" lengthAdjust="spacingAndGlyphs" transform="rotate(-90 240.2 251.39)">Mean value +/- SEM</text>
<text x="232.79" y="170.9" font-size="17" text-anchor="start" font-weight="normal" fill="#262626" textLength="9.85" lengthAdjust="spacingAndGlyphs">E</text>
<text x="310.42" y="161.4" font-size="8.4" text-anchor="start" font-weight="bold" fill="#0d0d0d" textLength="93.09" lengthAdjust="spacingAndGlyphs">Shock (Self) Dataset</text>
<line x1="270.5" y1="195.01" x2="270.5" y2="204.51" stroke="#000000" stroke-width="1.15"/>
<line x1="328.15" y1="224.47" x2="328.15" y2="230.28" stroke="#000000" stroke-width="1.15"/>
<line x1="385.8" y1="233.92" x2="385.8" y2="236.03" stroke="#000000" stroke-width="1.15"/>
<line x1="443.45" y1="236.35" x2="443.45" y2="238.46" stroke="#000000" stroke-width="1.15"/>
<line x1="270.5" y1="230.38" x2="270.5" y2="233.55" stroke="#ef6a2e" stroke-width="1.15"/>
<line x1="328.15" y1="225.79" x2="328.15" y2="228.96" stroke="#ef6a2e" stroke-width="1.15"/>
<line x1="385.8" y1="235.93" x2="385.8" y2="238.04" stroke="#ef6a2e" stroke-width="1.15"/>
<line x1="443.45" y1="233.02" x2="443.45" y2="235.14" stroke="#ef6a2e" stroke-width="1.15"/>
<line x1="270.5" y1="237.56" x2="270.5" y2="239.68" stroke="#4e8a50" stroke-width="1.15"/>
<line x1="328.15" y1="240.42" x2="328.15" y2="242.53" stroke="#4e8a50" stroke-width="1.15"/>
<line x1="385.8" y1="244.32" x2="385.8" y2="246.44" stroke="#4e8a50" stroke-width="1.15"/>
<line x1="443.45" y1="240.94" x2="443.45" y2="243.06" stroke="#4e8a50" stroke-width="1.15"/>
<line x1="270.5" y1="231.02" x2="270.5" y2="234.19" stroke="#974d9c" stroke-width="1.15"/>
<line x1="328.15" y1="235.93" x2="328.15" y2="238.04" stroke="#974d9c" stroke-width="1.15"/>
<line x1="385.8" y1="237.56" x2="385.8" y2="239.68" stroke="#974d9c" stroke-width="1.15"/>
<line x1="443.45" y1="238.94" x2="443.45" y2="241.05" stroke="#974d9c" stroke-width="1.15"/>
<polyline points="270.5,199.76 328.15,227.37 385.8,234.98 443.45,237.41" fill="none" stroke="#000000" stroke-width="1.15" stroke-opacity="0.75" stroke-linejoin="round"/>
<circle cx="270.5" cy="199.76" r="2.65" fill="#000000"/>
<circle cx="328.15" cy="227.37" r="2.65" fill="#000000"/>
<circle cx="385.8" cy="234.98" r="2.65" fill="#000000"/>
<circle cx="443.45" cy="237.41" r="2.65" fill="#000000"/>
<polyline points="270.5,231.97 328.15,227.37 385.8,236.98 443.45,234.08" fill="none" stroke="#ef6a2e" stroke-width="1.15" stroke-opacity="0.75" stroke-linejoin="round"/>
<circle cx="270.5" cy="231.97" r="2.65" fill="#ef6a2e"/>
<circle cx="328.15" cy="227.37" r="2.65" fill="#ef6a2e"/>
<circle cx="385.8" cy="236.98" r="2.65" fill="#ef6a2e"/>
<circle cx="443.45" cy="234.08" r="2.65" fill="#ef6a2e"/>
<polyline points="270.5,238.62 328.15,241.47 385.8,245.38 443.45,242" fill="none" stroke="#4e8a50" stroke-width="1.15" stroke-opacity="0.75" stroke-linejoin="round"/>
<circle cx="270.5" cy="238.62" r="2.65" fill="#4e8a50"/>
<circle cx="328.15" cy="241.47" r="2.65" fill="#4e8a50"/>
<circle cx="385.8" cy="245.38" r="2.65" fill="#4e8a50"/>
<circle cx="443.45" cy="242" r="2.65" fill="#4e8a50"/>
<polyline points="270.5,232.6 328.15,236.98 385.8,238.62 443.45,239.99" fill="none" stroke="#974d9c" stroke-width="1.15" stroke-opacity="0.75" stroke-linejoin="round"/>
<circle cx="270.5" cy="232.6" r="2.65" fill="#974d9c"/>
<circle cx="328.15" cy="236.98" r="2.65" fill="#974d9c"/>
<circle cx="385.8" cy="238.62" r="2.65" fill="#974d9c"/>
<circle cx="443.45" cy="239.99" r="2.65" fill="#974d9c"/>
<rect x="349.4" y="166.4" width="99" height="43.6" fill="#ffffff" stroke="#e0e0e0" stroke-width="0.9" rx="2" fill-opacity="0.8"/>
<line x1="351.4" y1="171.9" x2="366" y2="171.9" stroke="#000000" stroke-width="1.3" stroke-opacity="0.6"/>
<line x1="358.7" y1="168.3" x2="358.7" y2="175.5" stroke="#000000" stroke-width="1"/>
<circle cx="358.7" cy="171.9" r="2.65" fill="#000000"/>
<text x="370.95" y="174.35" font-size="8" text-anchor="start" font-weight="normal" fill="#262626" textLength="31.61" lengthAdjust="spacingAndGlyphs">Intercept</text>
<line x1="351.4" y1="182.4" x2="366" y2="182.4" stroke="#ef6a2e" stroke-width="1.3" stroke-opacity="0.6"/>
<line x1="358.7" y1="178.8" x2="358.7" y2="186" stroke="#ef6a2e" stroke-width="1"/>
<circle cx="358.7" cy="182.4" r="2.65" fill="#ef6a2e"/>
<text x="371.33" y="184.85" font-size="8" text-anchor="start" font-weight="normal" fill="#262626" textLength="31.92" lengthAdjust="spacingAndGlyphs">Outcome</text>
<line x1="351.4" y1="192.9" x2="366" y2="192.9" stroke="#4e8a50" stroke-width="1.3" stroke-opacity="0.6"/>
<line x1="358.7" y1="189.3" x2="358.7" y2="196.5" stroke="#4e8a50" stroke-width="1"/>
<circle cx="358.7" cy="192.9" r="2.65" fill="#4e8a50"/>
<text x="371.53" y="195.35" font-size="8" text-anchor="start" font-weight="normal" fill="#262626" textLength="33.36" lengthAdjust="spacingAndGlyphs">Transition</text>
<line x1="351.4" y1="203.4" x2="366" y2="203.4" stroke="#974d9c" stroke-width="1.3" stroke-opacity="0.6"/>
<line x1="358.7" y1="199.8" x2="358.7" y2="207" stroke="#974d9c" stroke-width="1"/>
<circle cx="358.7" cy="203.4" r="2.65" fill="#974d9c"/>
<text x="371.33" y="205.85" font-size="8" text-anchor="start" font-weight="normal" fill="#262626" textLength="74.28" lengthAdjust="spacingAndGlyphs">Outcome x Transition</text>
<line x1="494" y1="216" x2="684.4" y2="216" stroke="#cfcfcf" stroke-width="1"/>
<line x1="494" y1="189.6" x2="684.4" y2="189.6" stroke="#cfcfcf" stroke-width="1"/>
<rect x="494" y="163.2" width="190.4" height="105.2" fill="none" stroke="#c4c4c4" stroke-width="1" rx="0"/>
<line x1="494" y1="242.55" x2="684.4" y2="242.55" stroke="#454545" stroke-width="1.3"/>
<line x1="492.4" y1="268.8" x2="494" y2="268.8" stroke="#c4c4c4" stroke-width="0.8"/>
<line x1="492.4" y1="242.4" x2="494" y2="242.4" stroke="#c4c4c4" stroke-width="0.8"/>
<line x1="492.4" y1="216" x2="494" y2="216" stroke="#c4c4c4" stroke-width="0.8"/>
<line x1="492.4" y1="189.6" x2="494" y2="189.6" stroke="#c4c4c4" stroke-width="0.8"/>
<line x1="492.4" y1="163.2" x2="494" y2="163.2" stroke="#c4c4c4" stroke-width="0.8"/>
<line x1="502.5" y1="268.4" x2="502.5" y2="270" stroke="#c4c4c4" stroke-width="0.8"/>
<line x1="560.15" y1="268.4" x2="560.15" y2="270" stroke="#c4c4c4" stroke-width="0.8"/>
<line x1="617.8" y1="268.4" x2="617.8" y2="270" stroke="#c4c4c4" stroke-width="0.8"/>
<line x1="675.45" y1="268.4" x2="675.45" y2="270" stroke="#c4c4c4" stroke-width="0.8"/>
<text x="492.04" y="271.8" font-size="8" text-anchor="end" font-weight="normal" fill="#262626">−0.5</text>
<text x="492.01" y="245.4" font-size="8" text-anchor="end" font-weight="normal" fill="#262626">0.0</text>
<text x="492.04" y="219" font-size="8" text-anchor="end" font-weight="normal" fill="#262626">0.5</text>
<text x="492.01" y="192.6" font-size="8" text-anchor="end" font-weight="normal" fill="#262626">1.0</text>
<text x="492.04" y="166.2" font-size="8" text-anchor="end" font-weight="normal" fill="#262626">1.5</text>
<text x="500.17" y="276" font-size="8" text-anchor="start" font-weight="normal" fill="#262626" textLength="4.45" lengthAdjust="spacingAndGlyphs">1</text>
<text x="557.93" y="276" font-size="8" text-anchor="start" font-weight="normal" fill="#262626" textLength="4.45" lengthAdjust="spacingAndGlyphs">2</text>
<text x="615.6" y="276" font-size="8" text-anchor="start" font-weight="normal" fill="#262626" textLength="4.45" lengthAdjust="spacingAndGlyphs">3</text>
<text x="673.25" y="276" font-size="8" text-anchor="start" font-weight="normal" fill="#262626" textLength="4.45" lengthAdjust="spacingAndGlyphs">4</text>
<text x="570.43" y="283.9" font-size="8" text-anchor="start" font-weight="normal" fill="#262626" textLength="36.56" lengthAdjust="spacingAndGlyphs">Trials back</text>
<text x="472.3" y="251.49" font-size="8" text-anchor="start" font-weight="normal" fill="#262626" textLength="70.78" lengthAdjust="spacingAndGlyphs" transform="rotate(-90 472.3 251.49)">Mean value +/- SEM</text>
<text x="466.49" y="171.8" font-size="17" text-anchor="start" font-weight="normal" fill="#262626" textLength="9" lengthAdjust="spacingAndGlyphs">F</text>
<text x="538.32" y="161.5" font-size="8.4" text-anchor="start" font-weight="bold" fill="#0d0d0d" textLength="101.4" lengthAdjust="spacingAndGlyphs">Shock (Other) Dataset</text>
<line x1="502.5" y1="198.58" x2="502.5" y2="208.08" stroke="#000000" stroke-width="1.15"/>
<line x1="560.15" y1="227.88" x2="560.15" y2="233.16" stroke="#000000" stroke-width="1.15"/>
<line x1="617.8" y1="227.35" x2="617.8" y2="231.58" stroke="#000000" stroke-width="1.15"/>
<line x1="675.45" y1="236.06" x2="675.45" y2="238.18" stroke="#000000" stroke-width="1.15"/>
<line x1="502.5" y1="226.03" x2="502.5" y2="233.42" stroke="#ef6a2e" stroke-width="1.15"/>
<line x1="560.15" y1="230.26" x2="560.15" y2="232.37" stroke="#ef6a2e" stroke-width="1.15"/>
<line x1="617.8" y1="233.53" x2="617.8" y2="235.64" stroke="#ef6a2e" stroke-width="1.15"/>
<line x1="675.45" y1="240.29" x2="675.45" y2="242.4" stroke="#ef6a2e" stroke-width="1.15"/>
<line x1="502.5" y1="240.29" x2="502.5" y2="242.4" stroke="#4e8a50" stroke-width="1.15"/>
<line x1="560.15" y1="246.62" x2="560.15" y2="248.74" stroke="#4e8a50" stroke-width="1.15"/>
<line x1="617.8" y1="245.83" x2="617.8" y2="247.94" stroke="#4e8a50" stroke-width="1.15"/>
<line x1="675.45" y1="244.51" x2="675.45" y2="246.62" stroke="#4e8a50" stroke-width="1.15"/>
<line x1="502.5" y1="235.01" x2="502.5" y2="238.18" stroke="#974d9c" stroke-width="1.15"/>
<line x1="560.15" y1="230.41" x2="560.15" y2="233.58" stroke="#974d9c" stroke-width="1.15"/>
<line x1="617.8" y1="239.55" x2="617.8" y2="241.66" stroke="#974d9c" stroke-width="1.15"/>
<line x1="675.45" y1="236.59" x2="675.45" y2="238.7" stroke="#974d9c" stroke-width="1.15"/>
<polyline points="502.5,203.33 560.15,230.52 617.8,229.46 675.45,237.12" fill="none" stroke="#000000" stroke-width="1.15" stroke-opacity="0.75" stroke-linejoin="round"/>
<circle cx="502.5" cy="203.33" r="2.65" fill="#000000"/>
<circle cx="560.15" cy="230.52" r="2.65" fill="#000000"/>
<circle cx="617.8" cy="229.46" r="2.65" fill="#000000"/>
<circle cx="675.45" cy="237.12" r="2.65" fill="#000000"/>
<polyline points="502.5,229.73 560.15,231.31 617.8,234.59 675.45,241.34" fill="none" stroke="#ef6a2e" stroke-width="1.15" stroke-opacity="0.75" stroke-linejoin="round"/>
<circle cx="502.5" cy="229.73" r="2.65" fill="#ef6a2e"/>
<circle cx="560.15" cy="231.31" r="2.65" fill="#ef6a2e"/>
<circle cx="617.8" cy="234.59" r="2.65" fill="#ef6a2e"/>
<circle cx="675.45" cy="241.34" r="2.65" fill="#ef6a2e"/>
<polyline points="502.5,241.34 560.15,247.68 617.8,246.89 675.45,245.57" fill="none" stroke="#4e8a50" stroke-width="1.15" stroke-opacity="0.75" stroke-linejoin="round"/>
<circle cx="502.5" cy="241.34" r="2.65" fill="#4e8a50"/>
<circle cx="560.15" cy="247.68" r="2.65" fill="#4e8a50"/>
<circle cx="617.8" cy="246.89" r="2.65" fill="#4e8a50"/>
<circle cx="675.45" cy="245.57" r="2.65" fill="#4e8a50"/>
<polyline points="502.5,236.59 560.15,232 617.8,240.6 675.45,237.65" fill="none" stroke="#974d9c" stroke-width="1.15" stroke-opacity="0.75" stroke-linejoin="round"/>
<circle cx="502.5" cy="236.59" r="2.65" fill="#974d9c"/>
<circle cx="560.15" cy="232" r="2.65" fill="#974d9c"/>
<circle cx="617.8" cy="240.6" r="2.65" fill="#974d9c"/>
<circle cx="675.45" cy="237.65" r="2.65" fill="#974d9c"/>
<rect x="581.4" y="167" width="99.4" height="44" fill="#ffffff" stroke="#e0e0e0" stroke-width="0.9" rx="2" fill-opacity="0.8"/>
<line x1="583.4" y1="172.5" x2="598" y2="172.5" stroke="#000000" stroke-width="1.3" stroke-opacity="0.6"/>
<line x1="590.7" y1="168.9" x2="590.7" y2="176.1" stroke="#000000" stroke-width="1"/>
<circle cx="590.7" cy="172.5" r="2.65" fill="#000000"/>
<text x="602.95" y="174.95" font-size="8" text-anchor="start" font-weight="normal" fill="#262626" textLength="31.61" lengthAdjust="spacingAndGlyphs">Intercept</text>
<line x1="583.4" y1="183" x2="598" y2="183" stroke="#ef6a2e" stroke-width="1.3" stroke-opacity="0.6"/>
<line x1="590.7" y1="179.4" x2="590.7" y2="186.6" stroke="#ef6a2e" stroke-width="1"/>
<circle cx="590.7" cy="183" r="2.65" fill="#ef6a2e"/>
<text x="603.33" y="185.45" font-size="8" text-anchor="start" font-weight="normal" fill="#262626" textLength="31.92" lengthAdjust="spacingAndGlyphs">Outcome</text>
<line x1="583.4" y1="193.5" x2="598" y2="193.5" stroke="#4e8a50" stroke-width="1.3" stroke-opacity="0.6"/>
<line x1="590.7" y1="189.9" x2="590.7" y2="197.1" stroke="#4e8a50" stroke-width="1"/>
<circle cx="590.7" cy="193.5" r="2.65" fill="#4e8a50"/>
<text x="603.53" y="195.95" font-size="8" text-anchor="start" font-weight="normal" fill="#262626" textLength="33.36" lengthAdjust="spacingAndGlyphs">Transition</text>
<line x1="583.4" y1="204" x2="598" y2="204" stroke="#974d9c" stroke-width="1.3" stroke-opacity="0.6"/>
<line x1="590.7" y1="200.4" x2="590.7" y2="207.6" stroke="#974d9c" stroke-width="1"/>
<circle cx="590.7" cy="204" r="2.65" fill="#974d9c"/>
<text x="603.33" y="206.45" font-size="8" text-anchor="start" font-weight="normal" fill="#262626" textLength="74.28" lengthAdjust="spacingAndGlyphs">Outcome x Transition</text>
</svg>
</body></html>
